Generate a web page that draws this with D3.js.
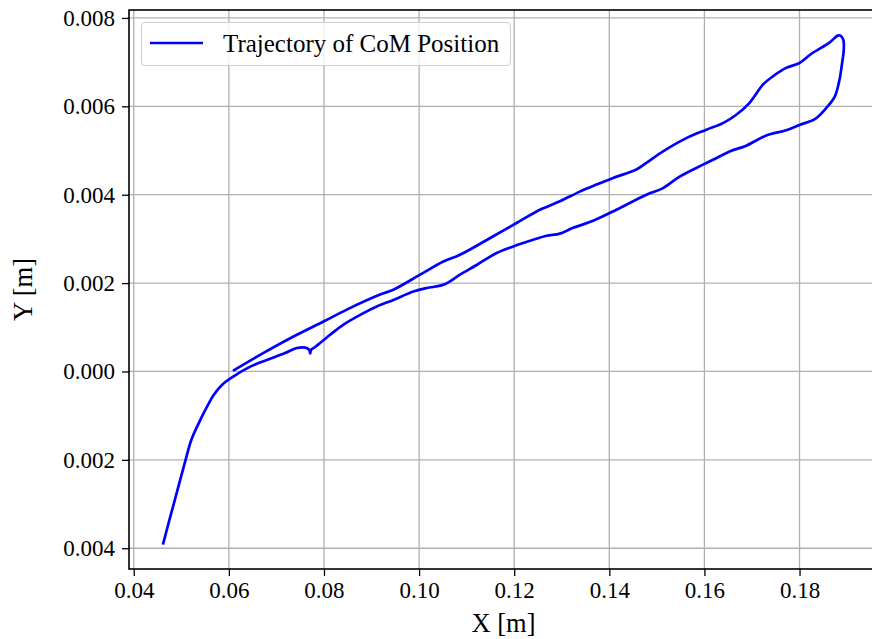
<!DOCTYPE html>
<html>
<head>
<meta charset="utf-8">
<script src="https://cdn.jsdelivr.net/npm/d3@7"></script>
<style>
  body { margin: 0; background: #fff; }
  svg { display: block; font-family: "Liberation Serif", "DejaVu Serif", serif; }
</style>
</head>
<body>
<div id="chart"></div>
<script>
// trajectory of CoM (lower branch out, upper branch back)
var comX = [
  0.0462, 0.0475, 0.0492, 0.0509, 0.0521, 0.0538, 0.0553, 0.0568, 0.0586, 0.0610,
  0.0645, 0.0680, 0.0717, 0.0743, 0.0761, 0.0769, 0.0771, 0.0773, 0.0782, 0.0813,
  0.0841, 0.0883, 0.0911, 0.0946, 0.0988, 0.1016, 0.1051, 0.1086, 0.1121, 0.1163,
  0.1198, 0.1240, 0.1268, 0.1296, 0.1324, 0.1366, 0.1415, 0.1478, 0.1513, 0.1548,
  0.1597, 0.1618, 0.1653, 0.1688, 0.1730, 0.1772, 0.1800, 0.1832, 0.1856, 0.1874,
  0.1884, 0.1889, 0.1893, 0.1892, 0.1886, 0.1880, 0.1863, 0.1825, 0.1800, 0.1772,
  0.1744, 0.1723, 0.1695, 0.1667, 0.1639, 0.1604, 0.1562, 0.1513, 0.1478, 0.1457,
  0.1408, 0.1373, 0.1338, 0.1296, 0.1254, 0.1205, 0.1156, 0.1086, 0.1051, 0.1002,
  0.0946, 0.0918, 0.0848, 0.0799, 0.0743, 0.0673, 0.0611
];
var comY = [
  -0.00389, -0.00336, -0.00268, -0.00200, -0.00155, -0.00114, -0.00082, -0.00053, -0.00030, -0.00011,
  0.00011, 0.00026, 0.00041, 0.00053, 0.00054, 0.00049, 0.00041, 0.00049, 0.00056, 0.00083,
  0.00106, 0.00132, 0.00147, 0.00162, 0.00181, 0.00189, 0.00196, 0.00219, 0.00241, 0.00268,
  0.00283, 0.00298, 0.00307, 0.00312, 0.00325, 0.00341, 0.00366, 0.00400, 0.00415, 0.00441,
  0.00468, 0.00479, 0.00498, 0.00511, 0.00534, 0.00546, 0.00558, 0.00571, 0.00596, 0.00622,
  0.00660, 0.00694, 0.00728, 0.00751, 0.00760, 0.00760, 0.00744, 0.00719, 0.00698, 0.00687,
  0.00668, 0.00649, 0.00608, 0.00581, 0.00562, 0.00547, 0.00528, 0.00498, 0.00472, 0.00457,
  0.00438, 0.00423, 0.00407, 0.00385, 0.00366, 0.00336, 0.00306, 0.00264, 0.00249, 0.00219,
  0.00185, 0.00174, 0.00140, 0.00113, 0.00083, 0.00042, 0.00003
];

var xTicks = [0.04, 0.06, 0.08, 0.10, 0.12, 0.14, 0.16, 0.18];
var yTicks = [0.008, 0.006, 0.004, 0.002, 0.000, -0.002, -0.004];
// labels as printed in the figure (minus sign missing from the font)
var yTickLabels = ["0.008", "0.006", "0.004", "0.002", "0.000", "0.002", "0.004"];
var seriesName = "Trajectory of CoM Position";

var width = 872, height = 639;
var tickFont = 23, labelFont = 26.5, legendFont = 25;

var svg = d3.select("#chart").append("svg")
    .attr("width", width)
    .attr("height", height);

// axes box; right edge runs past the picture
var plot = { left: 129, right: 878, top: 10, bottom: 569 };

var x = d3.scaleLinear().domain([0.0390, 0.1965]).range([plot.left, plot.right]);
var y = d3.scaleLinear().domain([-0.00447, 0.00818]).range([plot.bottom, plot.top]);

// grid
var grid = svg.append("g").attr("class", "grid");
grid.selectAll("line.gx")
    .data(xTicks)
    .enter().append("line")
      .attr("class", "gx")
      .attr("x1", function(d) { return x(d); })
      .attr("x2", function(d) { return x(d); })
      .attr("y1", plot.top)
      .attr("y2", plot.bottom)
      .attr("stroke", "#b0b0b0")
      .attr("stroke-width", 1.3);
grid.selectAll("line.gy")
    .data(yTicks)
    .enter().append("line")
      .attr("class", "gy")
      .attr("x1", plot.left)
      .attr("x2", plot.right)
      .attr("y1", function(d) { return y(d); })
      .attr("y2", function(d) { return y(d); })
      .attr("stroke", "#b0b0b0")
      .attr("stroke-width", 1.3);

// trajectory
var points = comX.map(function(v, i) { return [v, comY[i]]; });
var line = d3.line()
    .x(function(d) { return x(d[0]); })
    .y(function(d) { return y(d[1]); })
    .curve(d3.curveCatmullRom.alpha(0.5));

svg.append("path")
    .datum(points)
    .attr("fill", "none")
    .attr("stroke", "#0000ff")
    .attr("stroke-width", 2.7)
    .attr("stroke-linejoin", "round")
    .attr("stroke-linecap", "square")
    .attr("d", line);

// spines
svg.append("rect")
    .attr("x", plot.left)
    .attr("y", plot.top)
    .attr("width", plot.right - plot.left)
    .attr("height", plot.bottom - plot.top)
    .attr("fill", "none")
    .attr("stroke", "#000")
    .attr("stroke-width", 1.6);

// axes
var xAxis = svg.append("g")
    .attr("transform", "translate(0," + plot.bottom + ")")
    .call(d3.axisBottom(x).tickValues(xTicks).tickFormat(d3.format(".2f"))
      .tickSize(7).tickPadding(6));
var yAxis = svg.append("g")
    .attr("transform", "translate(" + plot.left + ",0)")
    .call(d3.axisLeft(y).tickValues(yTicks)
      .tickFormat(function(d, i) { return yTickLabels[i]; })
      .tickSize(7).tickPadding(7));

[xAxis, yAxis].forEach(function(a) {
  a.select(".domain").remove();
  a.selectAll(".tick line").attr("stroke", "#000").attr("stroke-width", 1.3);
  a.selectAll(".tick text")
      .attr("fill", "#000")
      .style("font-family", "Liberation Serif")
      .style("font-size", tickFont + "px");
});

// axis titles
svg.append("text")
    .attr("x", (plot.left + plot.right) / 2)
    .attr("y", 632)
    .attr("text-anchor", "middle")
    .style("font-size", labelFont + "px")
    .text("X [m]");
svg.append("text")
    .attr("transform", "translate(32," + (plot.top + plot.bottom) / 2 + ") rotate(-90)")
    .attr("text-anchor", "middle")
    .style("font-size", labelFont + "px")
    .text("Y [m]");

// legend
var legend = svg.append("g");
legend.append("rect")
    .attr("x", 141.5)
    .attr("y", 22.5)
    .attr("width", 369)
    .attr("height", 43)
    .attr("rx", 4)
    .attr("fill", "#fff")
    .attr("fill-opacity", 0.8)
    .attr("stroke", "#d0d0d0")
    .attr("stroke-width", 1.2);
legend.append("line")
    .attr("x1", 150)
    .attr("x2", 203)
    .attr("y1", 43)
    .attr("y2", 43)
    .attr("stroke", "#0000ff")
    .attr("stroke-width", 2.7);
legend.append("text")
    .attr("x", 223)
    .attr("y", 52)
    .style("font-size", legendFont + "px")
    .text(seriesName);
</script>
</body>
</html>
